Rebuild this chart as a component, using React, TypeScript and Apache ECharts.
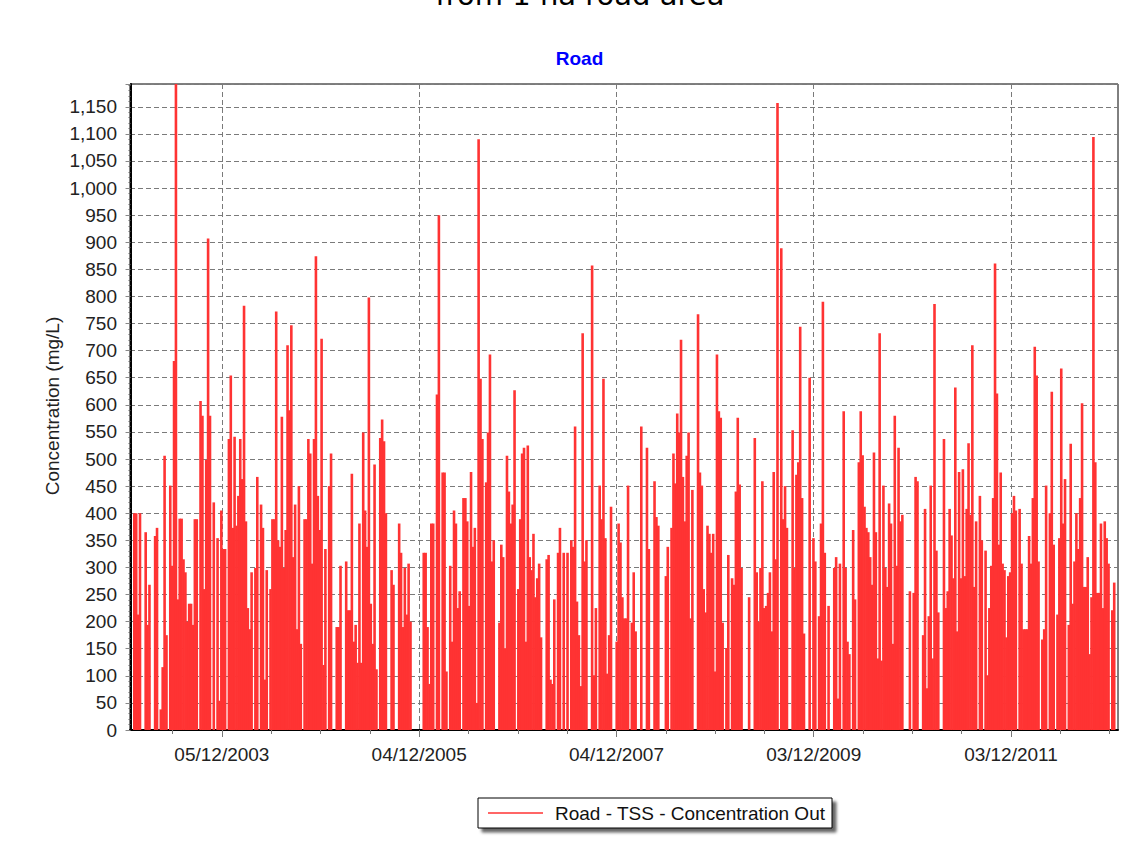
import React, { useEffect, useRef } from 'react';
import * as echarts from 'echarts';

// ---- data (weekly samples starting 2003-01-01) ----
const startYear = 2003;
const stepDays = 7;

const block1 = [0,0,400,400,213,400,0,0,365,194,268,0,0,358,373,0,38,116,506,175,0,451,303,681,1192,241,390,390,315,291,200,233,233,194,389,389,0,607,580,260,498,907,580,0,420,0,354,54,405,334,334,0];
const block2 = [537,654,373,541,377,432,537,463,783,385,225,186,291,0,299,467,0,416,373,93,295,0,260,389,389,772,350,338,578,299,369,710,590,747,319,416,186,450,159,0,389,389,537,510,307,537,874,432,369,722,120,334];
const block3 = [0,450,510,0,0,190,190,303,0,0,311,221,221,473,163,194,124,381,124,549,405,338,798,233,159,490,112,0,539,573,533,400,0,0,295,268,0,0,381,327,190,299,213,307,200,0,0,0,0,0,0,327];
const block4 = [327,190,85,381,381,0,619,950,0,475,475,108,0,303,163,405,381,225,256,0,428,428,385,229,476,338,373,50,1090,648,537,0,457,549,693,311,350,0,0,198,342,319,151,506,440,381,416,627,0,260,389,510];
const block5 = [521,163,525,319,295,362,245,280,307,171,0,0,315,323,93,85,241,0,327,373,0,327,0,327,0,350,338,560,237,175,81,732,311,350,0,0,857,101,225,0,451,389,648,354,104,175,412,0,0,163,381,346];
const block6 = [245,206,206,451,0,198,291,182,0,0,560,0,0,521,334,0,0,459,393,377,0,0,0,284,338,0,373,510,455,584,549,720,467,385,506,549,206,443,0,0,767,475,451,260,217,377,362,327,362,108,693,588];
const block7 = [576,198,0,151,323,0,280,268,440,576,453,299,0,0,0,245,0,0,539,291,200,299,459,225,229,253,291,182,476,315,1157,0,889,389,450,373,0,0,553,299,471,494,744,428,178,0,0,650,0,354,311,0];
const block8 = [210,381,790,327,0,229,0,0,299,319,58,307,0,588,299,163,140,0,369,241,0,494,588,507,412,373,365,319,268,512,365,132,732,128,451,299,264,418,381,159,580,303,521,385,397,0,0,0,256,0,253,467];
const block9 = [459,0,0,175,408,77,210,451,132,786,331,217,0,0,537,225,256,408,359,280,632,182,476,280,481,284,408,529,397,710,264,385,0,432,350,0,331,101,225,303,428,861,621,342,475,307,295,171,284,291,400,432];
const block10 = [405,0,408,307,186,186,186,358,307,428,707,654,311,0,167,186,451,0,400,624,342,0,213,354,667,381,463,0,194,528,233,311,400,334,428,603,264,264,319,140,245,1094,494,253,253,381,225,385,354,307,0,221,272,0];

const majorTickLabels = ['05/12/2003', '04/12/2005', '04/12/2007', '03/12/2009', '03/12/2011'];
const yTickStep = 50;
const yMax = 1192;

const chartTitle = 'from 1 ha road area';
const chartSubtitle = 'Road';
const yAxisTitle = 'Concentration (mg/L)';
const seriesName = 'Road - TSS - Concentration Out';

// ---- helpers ----
const DAY = 86400000;
const T0 = Date.UTC(startYear, 0, 1);
const labelToDay = (s: string) => {
  const [d, m, y] = s.split('/').map(Number);
  return Math.round((Date.UTC(y, m - 1, d) - T0) / DAY);
};
const pad = (n: number) => (n < 10 ? '0' + n : '' + n);
const dayToLabel = (v: number) => {
  const dt = new Date(T0 + Math.round(v) * DAY);
  return pad(dt.getUTCDate()) + '/' + pad(dt.getUTCMonth() + 1) + '/' + dt.getUTCFullYear();
};

const X_MIN = -2;
const X_MAX = 3654;

export default function App() {
  const ref = useRef<HTMLDivElement>(null);

  useEffect(() => {
    if (!ref.current) return;
    const chart = echarts.init(ref.current, undefined, { renderer: 'svg' });

    const values = [...block1, ...block2, ...block3, ...block4, ...block5, ...block6, ...block7, ...block8, ...block9, ...block10];
    const data = values.map((v, i) => [i * stepDays, v]);

    const majorDays = majorTickLabels.map(labelToDay);
    const quarter = (majorDays[1] - majorDays[0]) / 4;
    const minorDays: number[] = [];
    for (let d = majorDays[0] - 4 * quarter; d <= X_MAX; d += quarter) {
      if (d < X_MIN) continue;
      if (majorDays.some((m) => Math.abs(m - d) < 1)) continue;
      minorDays.push(d);
    }

    const font = "'Liberation Sans', Arial, sans-serif";
    const gridLine = { color: '#7a7a7a', width: 1, type: [5, 3] as any };

    chart.setOption({
      animation: false,
      backgroundColor: '#ffffff',
      grid: {
        left: 130,
        top: 84,
        width: 988,
        height: 646,
        show: true,
        borderColor: '#000',
        borderWidth: 1,
        backgroundColor: 'transparent',
      },
      xAxis: [
        {
          type: 'value',
          min: X_MIN,
          max: X_MAX,
          position: 'bottom',
          axisLine: { show: true, onZero: false, lineStyle: { color: '#000', width: 2 } },
          axisTick: { show: true, customValues: majorDays, length: 7, lineStyle: { color: '#777' } },
          axisLabel: {
            show: true,
            customValues: majorDays,
            formatter: (v: number) => dayToLabel(v),
            fontFamily: font,
            fontSize: 19,
            color: '#222',
            margin: 15,
          },
          splitLine: { show: true, lineStyle: gridLine },
        },
        {
          type: 'value',
          min: X_MIN,
          max: X_MAX,
          position: 'bottom',
          axisLine: { show: false, onZero: false },
          axisTick: { show: true, customValues: minorDays, length: 4, lineStyle: { color: '#777' } },
          axisLabel: { show: false },
          splitLine: { show: false },
        },
      ],
      yAxis: {
        type: 'value',
        min: 0,
        max: yMax,
        interval: yTickStep,
        axisLine: { show: true, lineStyle: { color: '#000', width: 2 } },
        axisTick: { show: true, length: 5, lineStyle: { color: '#888' } },
        minorTick: { show: true, splitNumber: 5, length: 2, lineStyle: { color: '#666' } },
        axisLabel: {
          fontFamily: font,
          fontSize: 19,
          color: '#222',
          margin: 13,
          showMaxLabel: false,
          formatter: (v: number) => (v % yTickStep === 0 ? v.toLocaleString('en-US') : ''),
        },
        splitLine: { show: true, lineStyle: gridLine },
      },
      series: [
        {
          name: seriesName,
          type: 'bar',
          xAxisIndex: 0,
          data,
          barWidth: 2.6,
          itemStyle: { color: '#ff3333' },
          silent: true,
        },
      ],
      graphic: [
        {
          type: 'text',
          x: 580,
          y: -5,
          style: {
            text: chartTitle,
            font: "29px 'DejaVu Sans', Verdana, sans-serif",
            fill: '#000',
            textAlign: 'center',
            textVerticalAlign: 'middle',
          },
        },
        {
          type: 'text',
          x: 579.5,
          y: 58.5,
          style: {
            text: chartSubtitle,
            font: "bold 19px 'Liberation Sans', Arial, sans-serif",
            fill: '#0000ff',
            textAlign: 'center',
            textVerticalAlign: 'middle',
          },
        },
        {
          type: 'text',
          x: 52,
          y: 406,
          rotation: Math.PI / 2,
          style: {
            text: yAxisTitle,
            font: "19px 'Liberation Sans', Arial, sans-serif",
            fill: '#222',
            textAlign: 'center',
            textVerticalAlign: 'middle',
          },
        },
        {
          type: 'group',
          children: [
            {
              type: 'rect',
              shape: { x: 478, y: 798, width: 354, height: 30 },
              style: {
                fill: '#fff',
                stroke: '#000',
                lineWidth: 1,
                shadowBlur: 3,
                shadowColor: 'rgba(0,0,0,0.6)',
                shadowOffsetX: 4,
                shadowOffsetY: 4,
              },
            },
            {
              type: 'line',
              shape: { x1: 488, y1: 813, x2: 543, y2: 813 },
              style: { stroke: '#ff3333', lineWidth: 1.5 },
            },
            {
              type: 'text',
              x: 555,
              y: 813,
              style: {
                text: seriesName,
                font: "19px 'Liberation Sans', Arial, sans-serif",
                fill: '#111',
                textAlign: 'left',
                textVerticalAlign: 'middle',
              },
            },
          ],
        },
      ],
    });

    return () => chart.dispose();
  }, []);

  return (
    <div
      ref={ref}
      style={{ position: 'absolute', left: 0, top: 0, width: 1140, height: 866, background: '#fff' }}
    />
  );
}
